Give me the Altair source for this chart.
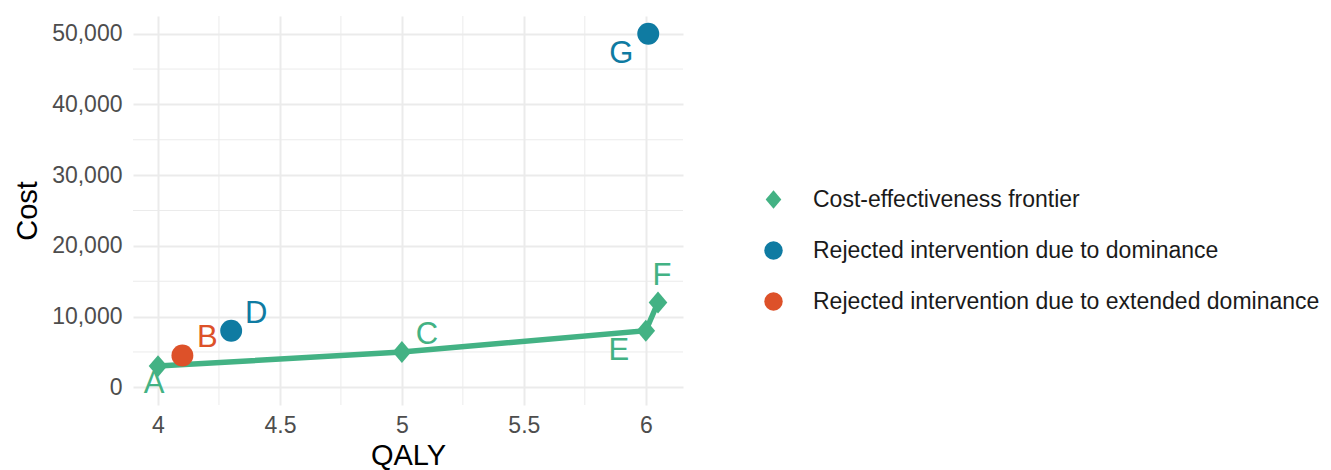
import altair as alt
import pandas as pd

labels = ["A", "B", "C", "D", "E", "F", "G"]
qaly = [4.0, 4.1, 5.0, 4.3, 6.0, 6.05, 6.01]
cost = [3000, 4500, 5000, 8000, 8000, 12000, 50000]
FR = "Cost-effectiveness frontier"
DOM = "Rejected intervention due to dominance"
EXT = "Rejected intervention due to extended dominance"
status = [FR, EXT, FR, DOM, FR, FR, DOM]

x_ticks = [4, 4.5, 5, 5.5, 6]
y_ticks = [0, 10000, 20000, 30000, 40000, 50000]
x_minor = [4.25, 4.75, 5.25, 5.75]
y_minor = [5000, 15000, 25000, 35000, 45000]

df = pd.DataFrame({"label": labels, "qaly": qaly, "cost": cost, "status": status})
FONT = "Liberation Sans"

xs = alt.Scale(domain=[3.8975, 6.1525], nice=False, zero=False)
ys = alt.Scale(domain=[-2500, 52500], nice=False, zero=False)
cs = alt.Scale(domain=[FR, DOM, EXT], range=["#43b284", "#0f7ba2", "#dd5129"])
diamond = "M0,-1L0.85,0L0,1L-0.85,0Z"
ss = alt.Scale(domain=[FR, DOM, EXT], range=[diamond, "circle", "circle"])

xax = alt.Axis(values=x_ticks, format="~g", title="QALY", grid=True, gridColor="#ebebeb",
               gridWidth=2, domain=False, ticks=False, labelFontSize=23, labelColor="#4d4d4d",
               labelFont=FONT, labelPadding=9, titleFont=FONT, titleFontSize=29,
               titleFontWeight="normal", titleColor="#000000", titlePadding=4)
yax = alt.Axis(values=y_ticks, format=",d", title="Cost", grid=True, gridColor="#ebebeb",
               gridWidth=2, domain=False, ticks=False, labelFontSize=23, labelColor="#4d4d4d",
               labelFont=FONT, labelPadding=11, titleFont=FONT, titleFontSize=29,
               titleFontWeight="normal", titleColor="#000000", titlePadding=9)

vminor = alt.Chart(pd.DataFrame({"v": x_minor})).mark_rule(color="#ebebeb", strokeWidth=1).encode(
    x=alt.X("v:Q", scale=xs, axis=xax))
hminor = alt.Chart(pd.DataFrame({"v": y_minor})).mark_rule(color="#ebebeb", strokeWidth=1).encode(
    y=alt.Y("v:Q", scale=ys, axis=yax))

base = alt.Chart(df)
line = base.transform_filter(alt.datum.status == FR).mark_line(
    strokeWidth=5.5, color="#43b284").encode(
    x=alt.X("qaly:Q", scale=xs, axis=xax),
    y=alt.Y("cost:Q", scale=ys, axis=yax),
    order="qaly:Q")

leg = alt.Legend(
    title=None, orient="none", legendX=629, legendY=172, labelFont=FONT,
    labelFontSize=23, labelColor="#1a1a1a", symbolSize=340, rowPadding=27,
    labelOffset=28, symbolOpacity=1, symbolStrokeWidth=0, labelLimit=800)

pts = base.mark_point(filled=True, size=480, opacity=1, strokeWidth=0).encode(
    x=alt.X("qaly:Q", scale=xs, axis=xax),
    y=alt.Y("cost:Q", scale=ys, axis=yax),
    color=alt.Color("status:N", scale=cs, legend=leg),
    shape=alt.Shape("status:N", scale=ss, legend=leg))

def txt(sel, dx, dy):
    return base.transform_filter(alt.FieldOneOfPredicate(field="label", oneOf=sel)).mark_text(
        font=FONT, fontSize=31, dx=dx, dy=dy, baseline="middle", align="center").encode(
        x=alt.X("qaly:Q", scale=xs, axis=xax),
        y=alt.Y("cost:Q", scale=ys, axis=yax),
        text="label:N",
        color=alt.Color("status:N", scale=cs, legend=None))

texts = [txt(["A"], -4, 18), txt(["B", "C", "D"], 25, -17), txt(["E", "G"], -27, 20),
         txt(["F"], 4, -26)]

chart = alt.layer(vminor, hminor, line, pts, *texts).properties(
    width=550, height=389,
    padding={"left": 133, "top": 16, "right": 648, "bottom": 65},
    autosize=alt.AutoSizeParams(type="none"),
    background="white",
).configure_view(stroke=None)

chart.save("out.html", embed_options={"renderer": "svg", "actions": False})
